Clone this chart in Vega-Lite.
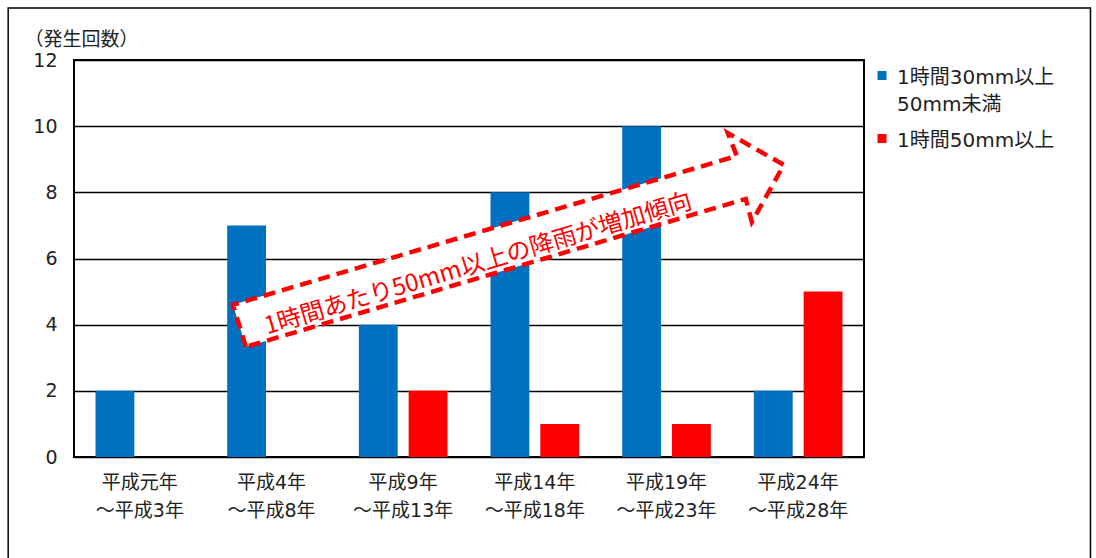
{
  "$schema": "https://vega.github.io/schema/vega-lite/v6.json",
  "autosize": "none",
  "width": 790,
  "height": 397,
  "padding": {"left": 74, "top": 60, "right": 232, "bottom": 101},
  "background": "white",
  "config": {
    "font": "Noto Sans CJK JP",
    "view": {"stroke": "black", "strokeWidth": 2},
    "style": {"guide-label": {"lineHeight": 27}}
  },
  "datasets": {
    "counts": [
      {"period": "平成元年\n～平成3年", "series": "1時間30mm以上50mm未満", "count": 2},
      {"period": "平成元年\n～平成3年", "series": "1時間50mm以上", "count": 0},
      {"period": "平成4年\n～平成8年", "series": "1時間30mm以上50mm未満", "count": 7},
      {"period": "平成4年\n～平成8年", "series": "1時間50mm以上", "count": 0},
      {"period": "平成9年\n～平成13年", "series": "1時間30mm以上50mm未満", "count": 4},
      {"period": "平成9年\n～平成13年", "series": "1時間50mm以上", "count": 2},
      {"period": "平成14年\n～平成18年", "series": "1時間30mm以上50mm未満", "count": 8},
      {"period": "平成14年\n～平成18年", "series": "1時間50mm以上", "count": 1},
      {"period": "平成19年\n～平成23年", "series": "1時間30mm以上50mm未満", "count": 10},
      {"period": "平成19年\n～平成23年", "series": "1時間50mm以上", "count": 1},
      {"period": "平成24年\n～平成28年", "series": "1時間30mm以上50mm未満", "count": 2},
      {"period": "平成24年\n～平成28年", "series": "1時間50mm以上", "count": 5}
    ],
    "arrow": [
      {"i": 0, "ax": 1.306, "ay": 3.33},
      {"i": 1, "ax": 1.207, "ay": 4.6},
      {"i": 2, "ax": 5.034, "ay": 9.1},
      {"i": 3, "ax": 4.966, "ay": 9.79},
      {"i": 4, "ax": 5.391, "ay": 8.83},
      {"i": 5, "ax": 5.148, "ay": 7.1},
      {"i": 6, "ax": 5.102, "ay": 7.8},
      {"i": 7, "ax": 1.306, "ay": 3.33}
    ],
    "note": [
      {"label": "1時間あたり50mm以上の降雨が増加傾向", "ax": 3.07, "ay": 5.82}
    ]
  },
  "layer": [
    {
      "data": {"name": "counts"},
      "mark": {"type": "bar"},
      "encoding": {
        "x": {
          "field": "period", "type": "nominal", "sort": null,
          "scale": {"paddingInner": 0, "paddingOuter": 0},
          "axis": {
            "title": null, "domain": false, "ticks": false, "labelAngle": 0,
            "labelExpr": "split(datum.label, '\\n')",
            "labelFont": "DejaVu Sans, Noto Sans CJK JP",
            "labelFontSize": 19, "labelColor": "#222", "labelLineHeight": 28,
            "labelBaseline": "top", "labelPadding": 16, "labelLimit": 200
          }
        },
        "xOffset": {
          "field": "series", "type": "nominal", "sort": null,
          "scale": {"paddingInner": 0.22, "paddingOuter": 0.432}
        },
        "y": {
          "field": "count", "type": "quantitative",
          "scale": {"domain": [0, 12], "nice": false},
          "axis": {
            "values": [0, 2, 4, 6, 8, 10, 12],
            "domain": false, "ticks": false,
            "grid": true, "gridColor": "black", "gridWidth": 1.5, "gridOpacity": 1,
            "labelFont": "DejaVu Sans", "labelFontSize": 19, "labelColor": "#222", "labelPadding": 17,
            "title": "（発生回数）", "titleAngle": 0, "titleAlign": "left",
            "titleBaseline": "middle", "titleX": -50, "titleY": -21,
            "titleFontSize": 19, "titleFontWeight": "normal", "titleColor": "#222"
          }
        },
        "color": {
          "field": "series", "type": "nominal", "sort": null,
          "scale": {"domain": ["1時間30mm以上50mm未満", "1時間50mm以上"], "range": ["#0070C0", "#FF0000"]},
          "legend": {
            "title": null, "orient": "none", "legendX": 798, "legendY": -2,
            "symbolType": "M-1,0.67L1,0.67L1,2.67L-1,2.67Z", "symbolSize": 81, "symbolStrokeWidth": 0,
            "labelFont": "DejaVu Sans, Noto Sans CJK JP",
            "labelFontSize": 20, "labelColor": "#222", "labelLimit": 250,
            "labelBaseline": "top",
            "labelExpr": "datum.label == '1時間30mm以上50mm未満' ? ['1時間30mm以上', '50mm未満'] : datum.label",
            "labelOffset": 5, "rowPadding": 6
          }
        }
      }
    },
    {
      "data": {"name": "arrow"},
      "mark": {"type": "line", "stroke": "#FF0000", "strokeWidth": 4.5, "strokeDash": [12, 7], "fill": "white", "strokeJoin": "miter", "clip": false},
      "encoding": {
        "x": {"field": "ax", "type": "quantitative", "scale": {"domain": [0, 6], "nice": false, "zero": false}, "axis": null},
        "y": {"field": "ay", "type": "quantitative"},
        "order": {"field": "i", "type": "quantitative"}
      }
    },
    {
      "data": {"name": "note"},
      "mark": {"type": "text", "angle": -16.5, "fontSize": 24, "color": "#FF0000", "align": "center", "baseline": "middle"},
      "encoding": {
        "x": {"field": "ax", "type": "quantitative", "scale": {"domain": [0, 6], "nice": false, "zero": false}, "axis": null},
        "y": {"field": "ay", "type": "quantitative"},
        "text": {"field": "label"}
      }
    },
    {
      "data": {"values": [{}]},
      "mark": {"type": "rect", "fill": null, "stroke": "black", "strokeWidth": 1.5, "clip": false},
      "encoding": {
        "x": {"datum": -0.5, "type": "quantitative", "scale": {"domain": [0, 6], "nice": false, "zero": false}, "axis": null},
        "x2": {"datum": 7.72},
        "y": {"datum": 13.57, "type": "quantitative"},
        "y2": {"datum": -3.6}
      }
    }
  ],
  "resolve": {"scale": {"x": "independent"}}
}
